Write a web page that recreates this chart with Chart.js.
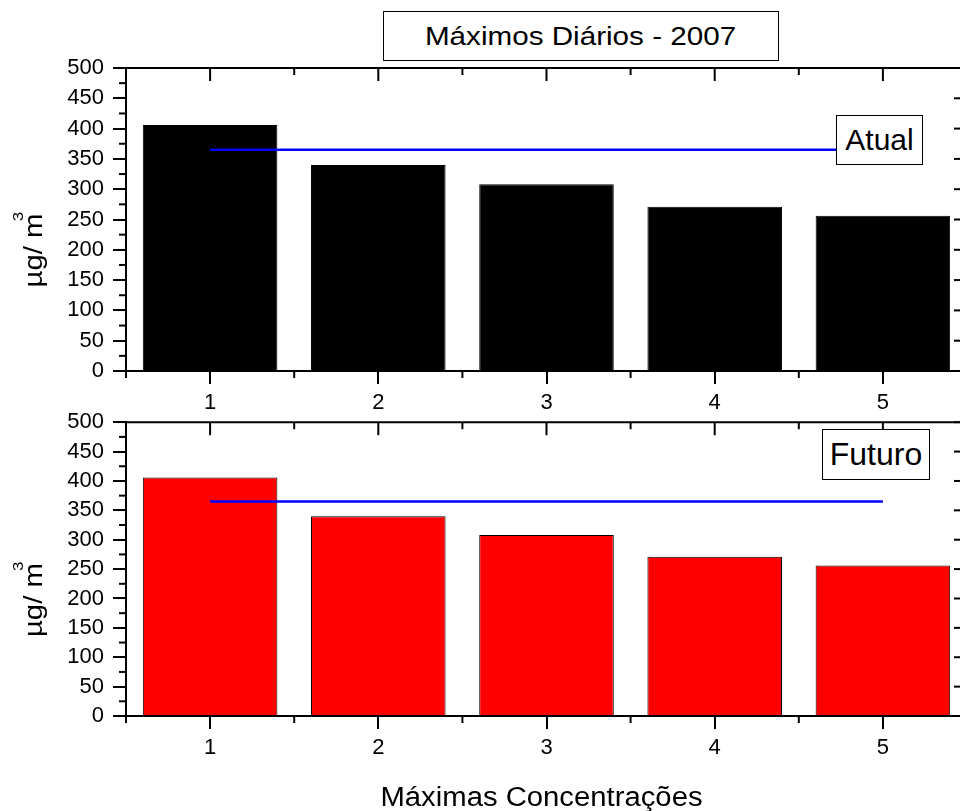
<!DOCTYPE html>
<html>
<head>
<meta charset="utf-8">
<script src="https://cdn.jsdelivr.net/npm/chart.js@4/dist/chart.umd.min.js"></script>
<style>
  html, body { margin: 0; padding: 0; background: #fff; overflow: hidden; width: 960px; height: 811px; }
  #page { position: relative; width: 960px; height: 811px; overflow: hidden; }
  #page canvas { position: absolute; left: 0; }
  .box {
    position: absolute; box-sizing: border-box; border: 1px solid #000; background: #fff;
    font-family: "Liberation Sans", Arial, sans-serif; color: #000;
    display: flex; align-items: center; justify-content: center; white-space: nowrap;
  }
  .wide { display: inline-block; transform: scaleX(1.14); }
</style>
</head>
<body>
<div id="page">
  <canvas id="atualChart" width="1000" height="412" style="top:0px"></canvas>
  <canvas id="futuroChart" width="1000" height="411" style="top:400px"></canvas>
  <div class="box" style="left:383px; top:11px; width:396px; height:50px; font-size:26px;"><span class="wide">Máximos Diários - 2007</span></div>
  <div class="box" style="left:836px; top:115px; width:87px; height:50px; font-size:30px;">Atual</div>
  <div class="box" style="left:822px; top:429px; width:108px; height:51px; font-size:32px;">Futuro</div>
</div>
<script>
// Five highest daily concentrations of 2007 (µg/m³)
const categories = ['1', '2', '3', '4', '5'];
const atualValues = [406, 340, 308, 271, 256];
const futuroValues = [406, 340, 308, 271, 256];
const limitValues = [365, 365, 365, 365, 365];
const yMin = 0;
const yMax = 500;
const yStep = 50;

const FONT = '"Liberation Sans", Arial, sans-serif';
Chart.defaults.font.family = FONT;
Chart.defaults.color = '#000';

function strokeLine(ctx, x1, y1, x2, y2) {
  ctx.beginPath();
  ctx.moveTo(x1, y1);
  ctx.lineTo(x2, y2);
  ctx.stroke();
}

// Closed frame with inward ticks on top/right, minor ticks, and axis titles
const framePlugin = {
  id: 'frame',
  afterDraw(chart, args, opts) {
    const { ctx, chartArea: a, scales: { x, y } } = chart;
    ctx.save();
    ctx.strokeStyle = '#000';
    ctx.lineWidth = 2;
    ctx.lineCap = 'butt';
    strokeLine(ctx, a.left - 1, a.top, a.right + 1, a.top);
    strokeLine(ctx, a.right, a.top, a.right, a.bottom);

    for (let i = 0; i < categories.length; i++) {
      const px = x.getPixelForValue(i);
      strokeLine(ctx, px, a.top, px, a.top + 13);
    }
    for (let i = -0.5; i <= categories.length - 0.5; i += 1) {
      const px = x.getPixelForValue(i);
      strokeLine(ctx, px, a.top, px, a.top + 7);
      strokeLine(ctx, px, a.bottom, px, a.bottom + 7);
    }
    for (let v = yMin; v <= yMax; v += yStep) {
      const py = y.getPixelForValue(v);
      strokeLine(ctx, a.right - 13, py, a.right, py);
    }
    for (let v = yMin + yStep / 2; v < yMax; v += yStep) {
      const py = y.getPixelForValue(v);
      strokeLine(ctx, a.left - 7, py, a.left, py);
      strokeLine(ctx, a.right - 7, py, a.right, py);
    }

    // vertical unit label with superscript
    ctx.fillStyle = '#000';
    ctx.textBaseline = 'alphabetic';
    ctx.textAlign = 'left';
    ctx.save();
    ctx.translate(42, (a.top + a.bottom) / 2 + 68);
    ctx.rotate(-Math.PI / 2);
    ctx.scale(1.13, 1);
    ctx.font = '26px ' + FONT;
    const unit = 'µg/ m';
    const w = ctx.measureText(unit).width;
    ctx.fillText(unit, 0, 0);
    ctx.font = '15px ' + FONT;
    ctx.fillText('3', w - 7, -19.5);
    ctx.restore();

    if (opts.xTitle) {
      ctx.save();
      ctx.translate((a.left + a.right) / 2 - 5, a.bottom + 90);
      ctx.scale(1.084, 1);
      ctx.font = '27px ' + FONT;
      ctx.textAlign = 'center';
      ctx.fillText(opts.xTitle, 0, 0);
      ctx.restore();
    }
    ctx.restore();
  }
};

function buildPanel(canvasId, values, barColor, padTop, xHeight, xTitle) {
  const axisGrid = {
    display: true, drawOnChartArea: false, drawTicks: true, tickLength: 13,
    lineWidth: 2, color: '#000', offset: false
  };
  return new Chart(document.getElementById(canvasId), {
    type: 'bar',
    data: {
      labels: categories,
      datasets: [
        {
          type: 'line', data: limitValues, borderColor: '#0000ff', borderWidth: 2.5,
          pointRadius: 0, fill: false, order: 1
        },
        {
          type: 'bar', data: values, backgroundColor: barColor, borderColor: '#000',
          borderWidth: 1, barPercentage: 0.8, categoryPercentage: 1, order: 2
        }
      ]
    },
    options: {
      responsive: false,
      animation: false,
      layout: { padding: { top: padTop, right: 33, left: 0, bottom: 0 } },
      plugins: { legend: { display: false }, tooltip: { enabled: false }, frame: { xTitle: xTitle } },
      scales: {
        x: {
          type: 'category', offset: true, z: 1,
          grid: axisGrid,
          border: { display: true, color: '#000', width: 2 },
          ticks: { color: '#000', font: { size: 22 }, padding: 6, maxRotation: 0, autoSkip: false },
          afterFit: s => { s.height = xHeight; }
        },
        y: {
          min: yMin, max: yMax, z: 1,
          grid: axisGrid,
          border: { display: true, color: '#000', width: 2 },
          ticks: { stepSize: yStep, color: '#000', font: { size: 22 }, padding: 9, autoSkip: false },
          afterFit: s => { s.width = 126; }
        }
      }
    },
    plugins: [framePlugin]
  });
}

buildPanel('atualChart', atualValues, '#000000', 68, 41, null);
buildPanel('futuroChart', futuroValues, '#ff0000', 14, 95, 'Máximas Concentrações');
</script>
</body>
</html>
